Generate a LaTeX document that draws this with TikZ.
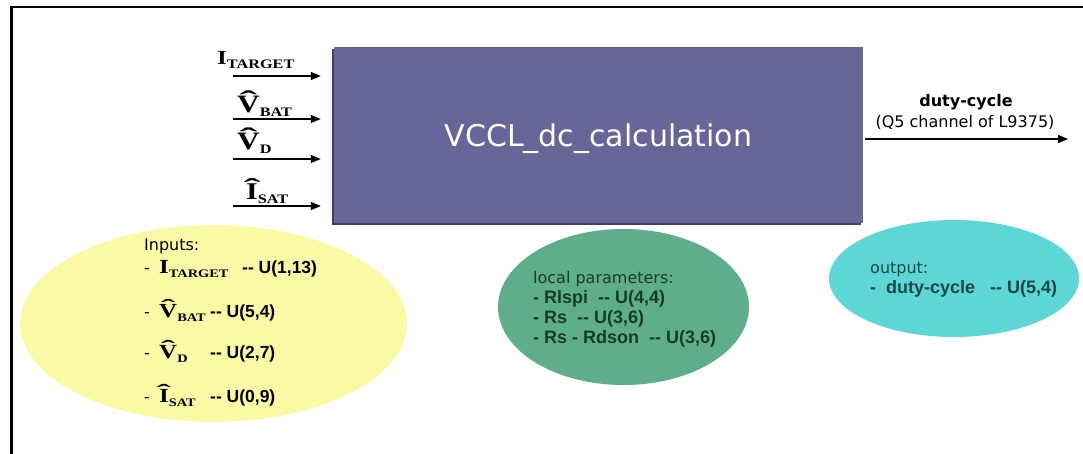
\documentclass[tikz,border=0pt]{standalone}
\usepackage{fontspec}
\usepackage{graphicx}
\setmainfont{DejaVu Sans}
\newfontfamily\lsans{Liberation Sans}
\newfontfamily\eqfont[FakeStretch=1.25]{Liberation Serif}
\usetikzlibrary{arrows.meta,shapes.geometric}

\definecolor{boxfill}{RGB}{103,102,152}
\definecolor{boxshade}{RGB}{62,60,104}
\definecolor{inyellow}{RGB}{250,250,166}
\definecolor{pargreen}{RGB}{94,174,139}
\definecolor{outcyan}{RGB}{94,214,214}
\definecolor{greentext}{RGB}{22,60,38}
\definecolor{cyantext}{RGB}{22,72,72}

\newcommand{\sz}[1]{\fontsize{#1}{#1}\selectfont}
\newcommand{\hatl}[1]{\setbox0\hbox{#1}\rlap{\hbox to\wd0{\hss\raisebox{0.17em}{\scalebox{1.7}[1]{\char"02C6}}\hss}}\box0}
\newcommand{\qsym}[4]{{\eqfont\bfseries\sz{#1}#2}\raisebox{-4pt}{\eqfont\bfseries\sz{#3}#4}}
\newcommand{\uval}[1]{{\lsans\bfseries\sz{17.5}-{}- U(#1)}}

\tikzset{
  txt/.style={inner sep=0pt, anchor=base west, font=\sz{16}},
  bld/.style={txt, font=\lsans\bfseries\sz{18}},
  inarrow/.style={line width=1.3pt, -{Triangle[length=10pt,width=8pt]}},
  blob/.style={ellipse, inner sep=0pt}
}

\begin{document}
\begin{tikzpicture}[x=1pt,y=-1pt]
\useasboundingbox (0,0) rectangle (1083,454);
\draw[line width=2.5pt] (11.5,454) -- (11.5,7) -- (1083,7);

\fill[boxshade] (332,49) rectangle (861,225);
\node[fill=boxfill, minimum width=529pt, minimum height=176pt, inner sep=0pt,
      text=white, font=\sz{30}, text height=23pt, text depth=0pt] (calc) at (598.5,135) {VCCL\_dc\_calculation};

\coordinate (inA) at (233,76);
\coordinate (inB) at (233,119);
\coordinate (inC) at (233,159);
\coordinate (inD) at (233,206);
\foreach \c in {inA,inB,inC,inD}
  \draw[inarrow, shorten >=13pt] (\c) -- (\c -| calc.west);
\node[txt] (lblA) at (217,65) {\qsym{20}{I}{13}{TARGET}};
\node[txt] (lblB) at (237,113) {\qsym{25}{\hatl{V}}{13}{BAT}};
\node[txt] (lblC) at (237,150) {\qsym{25}{\hatl{V}}{13}{D}};
\node[txt] (lblD) at (246,200) {\qsym{24}{\hatl{I}}{13}{SAT}};

\coordinate (out) at (1068,139);
\draw[inarrow, shorten <=2pt] (calc.east |- out) -- (out);
\node[txt, anchor=base, font=\bfseries\sz{16}] (outname) at (966,107) {duty-cycle};
\node[txt, anchor=base] (outnote) at (965,128) {(Q5 channel of L9375)};

\node[blob, fill=inyellow, minimum width=387pt, minimum height=197pt] (inputs) at (213.5,323.5) {};
\node[txt] (inhead) at (144,251) {Inputs:};
\node[txt] (inrowA) at (144,273) {\makebox[15pt][l]{-}\makebox[83pt][l]{\qsym{20}{I}{11.5}{TARGET}}\uval{1,13}};
\node[txt] (inrowB) at (144,317) {\makebox[15pt][l]{-}\makebox[51pt][l]{\qsym{20}{\hatl{V}}{11.5}{BAT}}\uval{5,4}};
\node[txt] (inrowC) at (144,358) {\makebox[15pt][l]{-}\makebox[51pt][l]{\qsym{20}{\hatl{V}}{11.5}{D}}\uval{2,7}};
\node[txt] (inrowD) at (144,402) {\makebox[15pt][l]{-}\makebox[51pt][l]{\qsym{20}{\hatl{I}}{11.5}{SAT}}\uval{0,9}};

\node[blob, fill=pargreen, minimum width=251pt, minimum height=156pt] (params) at (623.5,307) {};
\node[txt, text=greentext] (parhead) at (533,283) {local parameters:};
\node[bld, text=greentext] (parA) at (533,303) {- Rlspi~~-{}- U(4,4)};
\node[bld, text=greentext] (parB) at (533,323) {- Rs~~-{}- U(3,6)};
\node[bld, text=greentext] (parC) at (533,343) {- Rs - Rdson~~-{}- U(3,6)};

\node[blob, fill=outcyan, minimum width=250pt, minimum height=117pt] (output) at (954,278.5) {};
\node[txt, text=cyantext] (outhead) at (870,273) {output:};
\node[bld, text=cyantext] (outrow) at (870,293) {-~~duty-cycle~~~-{}- U(5,4)};
\end{tikzpicture}
\end{document}
